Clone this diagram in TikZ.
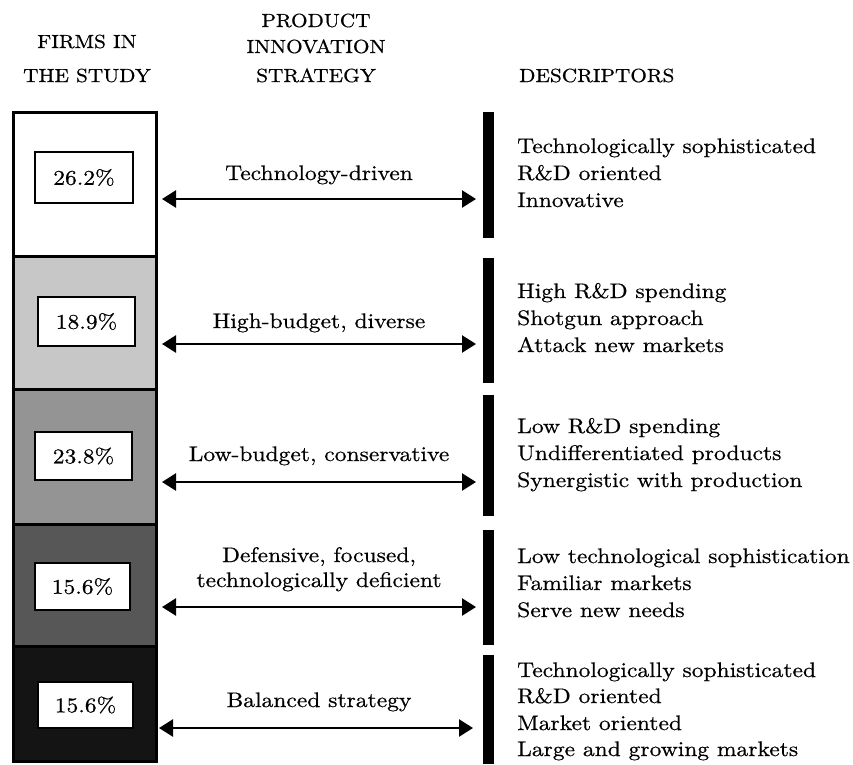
\documentclass[tikz,border=0pt]{standalone}
\usepackage{fontspec}
\setmainfont{lmroman10-regular}[Extension=.otf, FakeStretch=1.12, FakeBold=0.6]
\usetikzlibrary{arrows.meta}
\begin{document}
\begin{tikzpicture}[x=1pt,y=-1pt,
  lbl/.style={font=\fontsize{21}{27}\selectfont, inner sep=0pt},
  hdr/.style={font=\fontsize{19}{26}\selectfont, inner sep=0pt, anchor=base},
  desc/.style={lbl, anchor=base west},
  mid/.style={lbl, anchor=base},
  seg/.style={draw=black, line width=2.5pt, inner sep=0pt, minimum width=143pt, anchor=north west},
  pct/.style={draw=black, line width=2pt, fill=white, font=\fontsize{21}{24}\selectfont, inner sep=0pt},
  rbar/.style={fill=black, draw=none, inner sep=0pt, minimum width=11pt, anchor=north west},
  link/.style={line width=2.5pt, {Triangle[length=14pt,width=17pt]}-{Triangle[length=14pt,width=17pt]}}
]
\useasboundingbox (0,0) rectangle (853,764);

% headers
\node[hdr] (h1) at (87,48) {FIRMS IN};
\node[hdr] (h2) at (87,82) {THE STUDY};
\node[hdr] (h3) at (316,27) {PRODUCT};
\node[hdr] (h4) at (316,53) {INNOVATION};
\node[hdr] (h5) at (316,82) {STRATEGY};
\node[hdr, anchor=base west] (h6) at (519,82) {DESCRIPTORS};

% left stacked bar
\node[seg, fill=white, minimum height=144pt] (s1) at (12,111) {};
\node[seg, fill=black!22, minimum height=133pt] (s2) at (12,255) {};
\node[seg, fill=black!42, minimum height=135pt] (s3) at (12,388) {};
\node[seg, fill=black!66, minimum height=122pt] (s4) at (12,523) {};
\node[seg, fill=black!92, minimum height=115pt] (s5) at (12,645) {};

% percentage boxes
\node[pct, minimum width=98pt, minimum height=51pt] (p1) at (84,177.5) {26.2\%};
\node[pct, minimum width=97pt, minimum height=49pt] (p2) at (86.5,321.5) {18.9\%};
\node[pct, minimum width=97pt, minimum height=48pt] (p3) at (83.5,456) {23.8\%};
\node[pct, minimum width=95pt, minimum height=47pt] (p4) at (82.5,586.5) {15.6\%};
\node[pct, minimum width=95pt, minimum height=46pt] (p5) at (85.5,705) {15.6\%};

% right bars
\node[rbar, minimum height=126pt] (r1) at (483,112) {};
\node[rbar, minimum height=125pt] (r2) at (483,258) {};
\node[rbar, minimum height=121pt] (r3) at (483,395) {};
\node[rbar, minimum height=115pt] (r4) at (483,530) {};
\node[rbar, minimum height=109pt] (r5) at (483,655) {};

% strategy labels
\node[mid] (m1) at (319,180) {Technology-driven};
\node[mid] (m2) at (319,328) {High-budget, diverse};
\node[mid] (m3) at (319,461) {Low-budget, conservative};
\node[mid] (m4a) at (319,562) {Defensive, focused,};
\node[mid] (m4b) at (319,587) {technologically deficient};
\node[mid] (m5) at (319,707) {Balanced strategy};

% arrows
\coordinate (a1l) at (162,199); \coordinate (a1r) at (476,199);
\coordinate (a2l) at (162,344); \coordinate (a2r) at (476,344);
\coordinate (a3l) at (162,482); \coordinate (a3r) at (476,482);
\coordinate (a4l) at (162,607); \coordinate (a4r) at (476,607);
\coordinate (a5l) at (159,728); \coordinate (a5r) at (473,728);
\draw[link] (a1l) -- (a1r);
\draw[link] (a2l) -- (a2r);
\draw[link] (a3l) -- (a3r);
\draw[link] (a4l) -- (a4r);
\draw[link] (a5l) -- (a5r);

% descriptors
\node[desc] (d11) at (517,153) {Technologically sophisticated};
\node[desc] (d12) at (517,180) {R\&D oriented};
\node[desc] (d13) at (517,207) {Innovative};
\node[desc] (d21) at (517,298) {High R\&D spending};
\node[desc] (d22) at (517,325) {Shotgun approach};
\node[desc] (d23) at (517,352) {Attack new markets};
\node[desc] (d31) at (517,433) {Low R\&D spending};
\node[desc] (d32) at (517,460) {Undifferentiated products};
\node[desc] (d33) at (517,487) {Synergistic with production};
\node[desc] (d41) at (517,563) {Low technological sophistication};
\node[desc] (d42) at (517,590) {Familiar markets};
\node[desc] (d43) at (517,617) {Serve new needs};
\node[desc] (d51) at (517,677) {Technologically sophisticated};
\node[desc] (d52) at (517,703) {R\&D oriented};
\node[desc] (d53) at (517,730) {Market oriented};
\node[desc] (d54) at (517,756) {Large and growing markets};
\end{tikzpicture}
\end{document}
